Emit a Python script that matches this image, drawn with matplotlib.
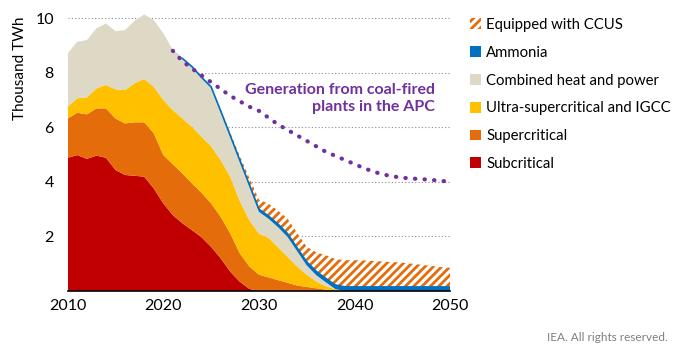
import matplotlib
matplotlib.use("Agg")
import matplotlib.pyplot as plt
from matplotlib.patches import Patch
import numpy as np

years = list(range(2010, 2051))

subcritical = [4.88, 4.98, 4.84, 4.96, 4.88, 4.43, 4.25, 4.22, 4.19, 3.76,
               3.21, 2.78, 2.48, 2.23, 1.97, 1.62, 1.20, 0.71, 0.34, 0.08,
               0.0] + [0.0] * 20
supercritical = [1.44, 1.55, 1.63, 1.73, 1.81, 1.89, 1.89, 1.96, 1.99, 2.02,
                 1.77, 1.86, 1.83, 1.71, 1.63, 1.59, 1.52, 1.40, 1.04, 0.82,
                 0.60, 0.50, 0.40, 0.30, 0.20, 0.15, 0.10, 0.05, 0.02] + [0.0] * 12
ultra_igcc = [0.43, 0.53, 0.62, 0.73, 0.86, 1.07, 1.22, 1.43, 1.59, 1.70,
              2.02, 1.99, 2.01, 2.08, 2.05, 2.09, 2.08, 2.08, 1.92, 1.70,
              1.50, 1.45, 1.20, 0.95, 0.70, 0.45, 0.25, 0.13, 0.04] + [0.0] * 12
chp = [1.96, 2.07, 2.10, 2.20, 2.25, 2.13, 2.20, 2.29, 2.36, 2.45,
       2.44, 2.20, 2.18, 2.17, 2.15, 2.14, 1.75, 1.46, 1.44, 1.23,
       0.80, 0.70, 0.74, 0.73, 0.56, 0.34, 0.23, 0.14, 0.01] + [0.0] * 12
ammonia = [0.0] * 12 + [0.02, 0.03, 0.03, 0.04, 0.05, 0.05, 0.06, 0.07,
                        0.10, 0.10, 0.11, 0.12, 0.12, 0.13, 0.14, 0.14, 0.15] + [0.15] * 12
ccus = [0.0] * 16 + [0.05, 0.10, 0.15, 0.25,
                     0.35, 0.45, 0.50, 0.55, 0.55, 0.55, 0.70, 0.85, 0.95, 0.98,
                     0.98, 0.97, 0.95, 0.93, 0.91, 0.89, 0.85, 0.81, 0.77, 0.73,
                     0.70]

apc_years = list(range(2021, 2051))
apc = [8.80, 8.42, 8.15, 7.90, 7.65, 7.40, 7.15, 6.95, 6.75, 6.60,
       6.35, 6.10, 5.90, 5.70, 5.50, 5.30, 5.10, 4.95, 4.80, 4.65,
       4.50, 4.37, 4.27, 4.20, 4.15, 4.12, 4.10, 4.07, 4.04, 4.00]

labels = ["Subcritical", "Supercritical", "Ultra-supercritical and IGCC",
          "Combined heat and power", "Ammonia", "Equipped with CCUS"]
colors = ["#C00000", "#E46C0A", "#FFC000", "#DDD9C4", "#0070C0", "#E46C0A"]

plt.rcParams["font.family"] = ["Lato", "DejaVu Sans"]
plt.rcParams["hatch.linewidth"] = 2.0

fig = plt.figure(figsize=(6.78, 3.53), dpi=100)
ax = fig.add_axes([0.0999, 0.1756, 0.5639, 0.812])

layers = [subcritical, supercritical, ultra_igcc, chp, ammonia]
ax.stackplot(years, layers, colors=colors[:5], linewidth=0)
base = np.sum(layers, axis=0)

# ammonia edge only where it exists
first = int(np.argmax(np.array(ammonia) > 0))
ax.plot(years[first:], base[first:], color="#0070C0", linewidth=1.2)
ax.fill_between(years, base, base + np.array(ccus), facecolor="white",
                edgecolor="#E46C0A", hatch="////", linewidth=0)

ax.plot(apc_years, apc, color="#7030A0", linewidth=3, linestyle=(0, (0.1, 2.2)),
        dash_capstyle="round")
ax.text(2048.4, 7.05, "Generation from coal-fired\nplants in the APC", color="#7030A0",
        fontsize=11.5, fontweight="bold", ha="right", va="center", linespacing=1.25)

ax.set_xlim(2010, 2050)
ax.set_ylim(0, 10.5)
ax.set_xticks([2010, 2020, 2030, 2040, 2050])
ax.set_yticks([2, 4, 6, 8, 10])
ax.yaxis.grid(True, color="#8c8c8c", linestyle=(0, (1, 2)), linewidth=0.8)
ax.set_axisbelow(True)
for s in ["top", "right", "left"]:
    ax.spines[s].set_visible(False)
ax.spines["bottom"].set_color("black")
ax.spines["bottom"].set_linewidth(1.2)
ax.spines["bottom"].set_zorder(5)
ax.tick_params(axis="both", length=0, labelsize=11.5)
ax.tick_params(axis="y", pad=10)
ax.tick_params(axis="x", pad=6)

fig.text(0.03, 0.807, "Thousand TWh", rotation=90, ha="center", va="center", fontsize=11)

handles = [Patch(facecolor="white", edgecolor="#E46C0A", hatch="////", linewidth=0)]
handles += [Patch(facecolor=c, linewidth=0) for c in colors[4::-1]]
leg_labels = [labels[5]] + labels[4::-1]
ax.legend(handles, leg_labels, loc="upper left", bbox_to_anchor=(0.684, 0.966),
          bbox_transform=fig.transFigure, frameon=False, fontsize=10.7,
          handlelength=0.75, handleheight=0.75, handletextpad=0.35,
          labelspacing=0.93, borderaxespad=0)

fig.text(0.985, 0.045, "IEA. All rights reserved.", ha="right", va="center",
         fontsize=8.5, color="#7f7f7f")

fig.savefig("out.png", dpi=100)
